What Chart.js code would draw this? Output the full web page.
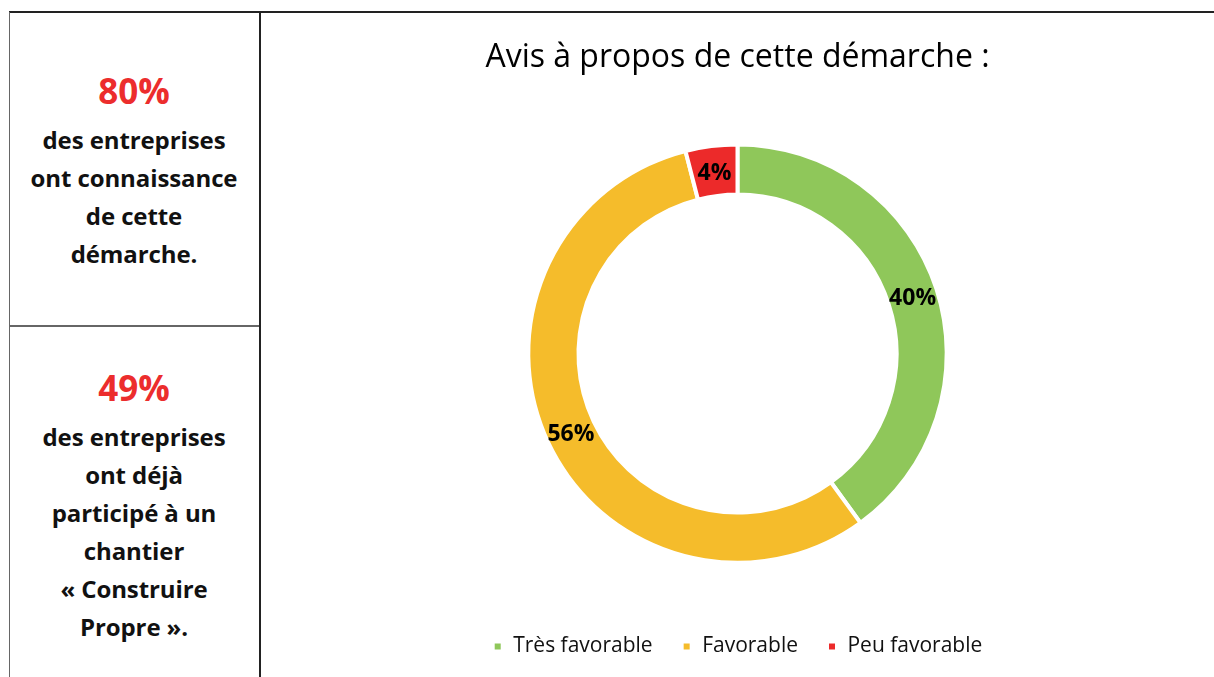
<!DOCTYPE html>
<html>
<head>
<meta charset="utf-8">
<script src="https://cdn.jsdelivr.net/npm/chart.js@4.4.0/dist/chart.umd.min.js"></script>
<style>
  body { margin: 0; background: #fff; width: 1214px; height: 677px; overflow: hidden; position: relative; font-family: "Open Sans", sans-serif; }
  .topline { position: absolute; left: 9px; top: 11px; width: 1205px; height: 2px; background: #222; }
  .col { position: absolute; left: 9px; top: 12px; width: 249px; height: 670px; border-left: 1px solid #666; border-right: 2px solid #222; }
  .divider { position: absolute; left: 9px; top: 325px; width: 250px; height: 2px; background: #666; }
  .box { position: absolute; left: 10px; width: 248px; text-align: center; font-weight: bold; color: #111; font-size: 24px; line-height: 38px; letter-spacing: -0.1px; }
  .big { color: #ec2d2d; font-size: 35px; line-height: 50px; margin-bottom: 5px; letter-spacing: 0; }
  #wrap { position: absolute; left: 261px; top: 14px; width: 953px; height: 663px; }
</style>
</head>
<body>
<div class="topline"></div>
<div class="col"></div>
<div class="divider"></div>
<div class="box" style="top:66px"><div class="big">80%</div>des entreprises<br>ont connaissance<br>de cette<br>démarche.</div>
<div class="box" style="top:363px"><div class="big">49%</div>des entreprises<br>ont déjà<br>participé à un<br>chantier<br>« Construire<br>Propre ».</div>
<div id="wrap"><canvas id="avisChart"></canvas></div>
<script>
const categories = ['Très favorable', 'Favorable', 'Peu favorable'];
const values = [40, 56, 4];
const colors = ['#8fc75a', '#f5bc2b', '#ec2a2a'];

// labels au milieu de l'anneau
const pctLabels = {
  id: 'pctLabels',
  afterDatasetsDraw(chart) {
    const ctx = chart.ctx;
    const meta = chart.getDatasetMeta(0);
    ctx.save();
    ctx.font = 'bold 23px "Open Sans", sans-serif';
    ctx.fillStyle = '#000';
    ctx.textAlign = 'center';
    ctx.textBaseline = 'middle';
    meta.data.forEach((arc, i) => {
      const p = arc.tooltipPosition();
      ctx.fillText(values[i] + '%', p.x, p.y + 2);
    });
    ctx.restore();
  }
};

const data = {
  labels: categories,
  datasets: [{
    data: values,
    backgroundColor: colors,
    borderColor: '#fff',
    borderWidth: 4
  }]
};

const options = {
  responsive: true,
  maintainAspectRatio: false,
  animation: false,
  cutout: '76%',
  layout: { padding: { top: 0, bottom: 10 } },
  plugins: {
    title: {
      display: true,
      text: 'Avis à propos de cette démarche :',
      color: '#000',
      font: { family: '"Open Sans", sans-serif', size: 32, weight: 'normal' },
      padding: { top: 25, bottom: 65 }
    },
    legend: {
      position: 'bottom',
      title: { display: true, text: ' ', font: { size: 1 }, padding: { top: 41, bottom: 0 } },
      labels: {
        color: '#111',
        boxWidth: 10,
        boxHeight: 10,
        padding: 29,
        font: { family: '"Open Sans", sans-serif', size: 21 }
      }
    },
    tooltip: { enabled: false }
  }
};

new Chart('avisChart', { type: 'doughnut', data, options, plugins: [pctLabels] });
</script>
</body>
</html>
